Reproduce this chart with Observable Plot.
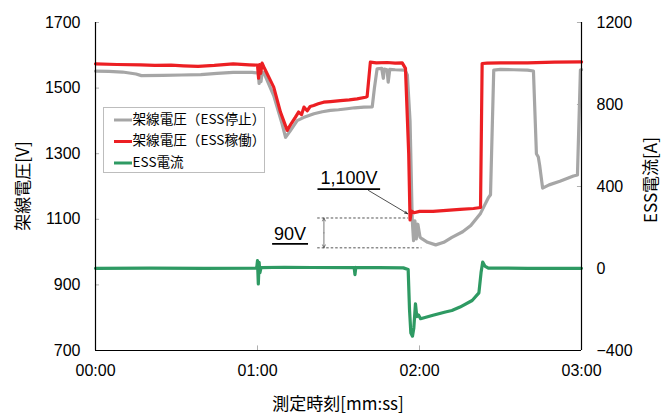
<!DOCTYPE html>
<html><head><meta charset="utf-8">
<script src="https://cdn.jsdelivr.net/npm/d3@7"></script>
<script src="https://cdn.jsdelivr.net/npm/@observablehq/plot@0.6"></script>
<style>
body{margin:0;background:#fff;}
#chart{width:669px;height:415px;}
</style></head><body><div id="chart"></div>
<script>
// ---- data (time in seconds) ----
const grayT = [0,5,10,15,17,25,32,39,45,51,58,60.3,60.6,61,61.3,61.7,62.3,66,69.1,70.4,72,74.7,77,80.9,84,87,90,93.2,96,99.4,102.5,103.3,104.3,106,106.6,107,108,108.4,109,111,114.6,115.5,116.5,117.3,117.8,118.3,118.8,119.4,120.2,121,123,126,129,132,136,139,142.6,145.6,146.3,147.5,150,155,160,162.2,163.3,164,164.5,165.6,168,172,177,178.5,179.6,180];
const grayV = [1552,1551,1549,1543,1538,1539,1540,1541,1545,1548,1548,1546,1514,1547,1520,1548,1548,1477,1391,1350,1368,1401,1410,1422,1428,1432,1434,1437,1440,1442,1443,1500,1559,1560,1530,1558,1556,1518,1557,1556,1555,1540,1400,1100,1035,1095,1040,1085,1045,1040,1030,1022,1030,1045,1062,1081,1118,1167,1175,1555,1557,1556,1555,1552,1300,1290,1265,1195,1205,1216,1232,1235,1555,1556];

const redT = [0,8,16.7,22,28,32.6,38,44,51,57,60,60.4,60.8,61.2,61.7,62.3,66,68.5,71,72.5,74,75.2,76.3,77.2,78.4,79.5,80.8,82.5,84.5,87,90.7,94,96.9,100,100.6,101.8,104,108,111,113.6,114.8,116,116.5,117,118,120,125,130,135,140,142.6,143.2,145,150,160,170,180];
const redV = [1574,1572,1571,1569,1570,1568,1566,1569,1574,1571,1570,1530,1572,1545,1576,1565,1503,1427,1371,1392,1411,1427,1419,1442,1431,1444,1447,1452,1457,1459,1462,1464,1467,1472,1474,1579,1577,1578,1576,1577,1560,1300,1098,1125,1120,1124,1124,1127,1130,1133,1136,1575,1576,1577,1577,1579,1580];

const greenT = [0,20,40,59.7,60,60.3,60.6,60.9,61.3,70,80,95.8,96.1,96.4,105,114,115.8,116.3,116.8,117.4,117.9,118.5,119,119.6,120.4,125,129.6,132,135,139.5,142,142.8,143.4,144.2,145.5,160,180];
const greenA = [1,2,1,2,38,-75,30,-20,4,6,5,4,-30,5,4,3,-5,-200,-315,-330,-290,-172,-235,-226,-245,-228,-212,-205,-188,-156,-119,-20,31,12,2,1,1];

// tick labels
const leftTicks = [700,900,1100,1300,1500,1700];
const rightTicks = [-400,0,400,800,1200];
const xTicks = [0,60,120,180];
const xTickLabels = ["00:00","01:00","02:00","03:00"];

// annotations
const noteText = ["1,100V","90V"];
const noteT = [93.9,72];
const noteV = [1209,1036];
const underT1 = [82.4,65.6];
const underT2 = [105.6,78.9];
const underV = [1192,1025];
const dashT1 = [82.3,82.3];
const dashT2 = [116.0,120.9];
const dashV = [1104,1013];
const spanT = 84.6;

const legendLabels = ["架線電圧（ESS停止）","架線電圧（ESS稼働）","ESS電流"];
const colors = ["#a6a6a6","#ec1f23","#2e9a63"];

// right axis (A) mapped onto left (V) scale
const toV = a => 700 + (a + 400) * 1000 / 1600;
const toA = v => Math.round((v - 700) * 1.6 - 400);

const gray = grayT.map((t,i)=>({t, v: grayV[i]}));
const red = redT.map((t,i)=>({t, v: redV[i]}));
const green = greenT.map((t,i)=>({t, a: greenA[i]}));
const notes = noteText.map((s,i)=>({s, t: noteT[i], v: noteV[i], t1: underT1[i], t2: underT2[i], u: underV[i]}));
const dashes = dashV.map((v,i)=>({v, t1: dashT1[i], t2: dashT2[i]}));

const fmtA = v => { const a = toA(v); return a < 0 ? "\u2212" + (-a) : String(a); };

const plot = Plot.plot({
  width: 669, height: 415,
  marginLeft: 95, marginRight: 88, marginTop: 22, marginBottom: 65,
  style: {fontFamily: "'Liberation Sans', Arial, sans-serif", fontSize: "16px", color: "#000", background: "#fff"},
  x: {domain: [0,180]},
  y: {domain: [700,1700]},
  marks: [
    // inside tick marks
    Plot.ruleY(leftTicks, {x1: 0, x2: 1.5, stroke: "#b0b0b0"}),
    Plot.ruleY(rightTicks.map(toV), {x1: 178.5, x2: 180, stroke: "#b0b0b0"}),
    Plot.ruleX(xTicks, {y1: 700, y2: 714, stroke: "#b0b0b0"}),
    Plot.axisY(leftTicks, {anchor: "left", tickSize: 0, tickPadding: 15, label: null, tickFormat: d => String(d)}),
    Plot.axisY(rightTicks.map(toV), {anchor: "right", tickSize: 0, tickPadding: 15, label: null, tickFormat: fmtA}),
    Plot.axisX(xTicks, {tickSize: 0, tickPadding: 14, label: null, tickFormat: d => xTickLabels[xTicks.indexOf(d)]}),
    // dotted guide lines and span arrow
    Plot.ruleY(dashes, {y: "v", x1: "t1", x2: "t2", stroke: "#555", strokeWidth: 1, strokeDasharray: "2.5,2"}),
    Plot.arrow([0], {x1: spanT, x2: spanT, y1: (dashV[0]+dashV[1])/2, y2: dashV[0], stroke: "#555", strokeWidth: 0.8, headLength: 6, headAngle: 50}),
    Plot.arrow([0], {x1: spanT, x2: spanT, y1: (dashV[0]+dashV[1])/2, y2: dashV[1], stroke: "#555", strokeWidth: 0.8, headLength: 6, headAngle: 50}),
    // series
    Plot.line(gray, {x: "t", y: "v", stroke: colors[0], strokeWidth: 3.2}),
    Plot.line(red, {x: "t", y: "v", stroke: colors[1], strokeWidth: 3.2}),
    Plot.line(green, {x: "t", y: d => toV(d.a), stroke: colors[2], strokeWidth: 3.2}),
    // frame lines
    Plot.ruleX([0,180], {stroke: "#000", strokeWidth: 1.2}),
    Plot.ruleY([700], {stroke: "#000", strokeWidth: 1.2}),
    // annotations
    Plot.text(notes, {x: "t", y: "v", text: "s", fontSize: 18, fill: "#000", lineAnchor: "bottom"}),
    Plot.ruleY(notes, {y: "u", x1: "t1", x2: "t2", stroke: "#000", strokeWidth: 1.6}),
    Plot.arrow([0], {x1: 101.1, y1: 1188, x2: 115.6, y2: 1117, stroke: "#222", strokeWidth: 0.8, headLength: 6, headAngle: 40})
  ]
});

const svg = d3.select(plot);
const sx = plot.scale("x"), sy = plot.scale("y");
const cjk = "'Noto Sans CJK JP', 'Noto Sans', sans-serif";

// axis titles
svg.append("text").attr("transform", `translate(24,${(sy.apply(700)+sy.apply(1700))/2}) rotate(-90)`)
  .attr("text-anchor","middle").attr("dominant-baseline","middle")
  .style("font-family", cjk).style("font-size","17px").attr("fill","#000").text("架線電圧[V]");
svg.append("text").attr("transform", `translate(652,${(sy.apply(700)+sy.apply(1700))/2 - 6}) rotate(-90)`)
  .attr("text-anchor","middle").attr("dominant-baseline","middle")
  .style("font-family", cjk).style("font-size","17px").attr("fill","#000").text("ESS電流[A]");
svg.append("text").attr("x", (sx.apply(0)+sx.apply(180))/2).attr("y", 405)
  .attr("text-anchor","middle").attr("dominant-baseline","middle")
  .style("font-family", cjk).style("font-size","17px").attr("fill","#000").text("測定時刻[mm:ss]");

// legend
const lg = svg.append("g");
lg.append("rect").attr("x",103.5).attr("y",107.5).attr("width",161).attr("height",65)
  .attr("fill","#fff").attr("stroke","#bdbdbd").attr("stroke-width",1);
legendLabels.forEach((lab,i) => {
  const y = 120 + i*21.5;
  lg.append("line").attr("x1",114).attr("x2",132).attr("y1",y).attr("y2",y)
    .attr("stroke",colors[i]).attr("stroke-width",3);
  lg.append("text").attr("x",132.5).attr("y",y).attr("dominant-baseline","middle")
    .attr("text-anchor","start")
    .style("font-family", cjk).style("font-size","13.6px").attr("fill","#000").text(lab);
});

document.getElementById("chart").appendChild(plot);
</script>
</body></html>
